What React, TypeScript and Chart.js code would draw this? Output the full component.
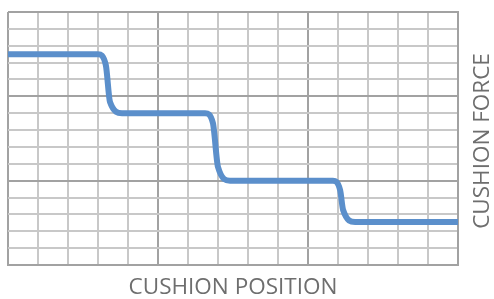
import React, { useEffect, useRef } from "react";
import { Chart, registerables } from "chart.js";

Chart.register(...registerables);

// Data (grid units: 15 x 15 divisions)
const positions = [0, 3.0, 3.26, 3.4, 3.8, 6.57, 6.83, 7.0, 7.4, 10.83, 11.07, 11.17, 11.57, 15];
const forces = [12.5, 12.5, 11.86, 9.66, 9.0, 9.0, 8.42, 5.81, 5.0, 5.0, 4.45, 3.26, 2.55, 2.55];

const xTitle = "CUSHION POSITION";
const yTitle = "CUSHION FORCE";

const axisMin = 0;
const axisMax = 15;
const majorEvery = 5;

const LIGHT = "#c8c8c8";
const DARK = "#a2a2a2";
const TEXT = "#6e6e6e";
const LINE = "#5b8fcb";
const FONT = "'Open Sans', 'Noto Sans', sans-serif";
const TITLE_SIZE = 22.5;

const yTitlePlugin = {
  id: "rotatedYTitle",
  afterDraw(chart: any) {
    const { ctx, chartArea } = chart;
    ctx.save();
    ctx.font = `${TITLE_SIZE}px ${FONT}`;
    ctx.fillStyle = TEXT;
    ctx.textAlign = "center";
    ctx.textBaseline = "middle";
    ctx.translate(chart.width - 11, (chartArea.top + chartArea.bottom) / 2 + 2.5);
    ctx.rotate(-Math.PI / 2);
    ctx.fillText(yTitle, 0, 0);
    ctx.restore();
  },
};

export default function App() {
  const ref = useRef<HTMLCanvasElement | null>(null);

  useEffect(() => {
    if (!ref.current) return;
    const gridColor = (c: any) =>
      Math.round(c.tick.value) % majorEvery === 0 ? DARK : LIGHT;
    const chart = new Chart(ref.current, {
      type: "line",
      data: {
        datasets: [
          {
            data: positions.map((x, i) => ({ x, y: forces[i] })),
            borderColor: LINE,
            borderWidth: 6,
            pointRadius: 0,
            fill: false,
            cubicInterpolationMode: "monotone",
          },
        ],
      },
      options: {
        responsive: false,
        animation: false,
        layout: { padding: { left: 8, top: 12 } },
        plugins: {
          legend: { display: false },
          tooltip: { enabled: false },
        },
        scales: {
          x: {
            type: "linear",
            min: axisMin,
            max: axisMax,
            ticks: { display: false, stepSize: 1 },
            grid: { color: gridColor, lineWidth: 2, drawTicks: false },
            border: { color: DARK, width: 2 },
            title: {
              display: true,
              text: xTitle,
              color: TEXT,
              font: { family: FONT, size: TITLE_SIZE, lineHeight: 1 },
              padding: { top: 11.5, bottom: 0 },
            },
          },
          y: {
            type: "linear",
            position: "right",
            min: axisMin,
            max: axisMax,
            ticks: { display: false, stepSize: 1 },
            grid: { color: gridColor, lineWidth: 2, drawTicks: false },
            border: { color: DARK, width: 2 },
            afterFit: (scale: any) => {
              scale.width = 36;
            },
          },
        },
      },
      plugins: [yTitlePlugin],
    } as any);
    return () => chart.destroy();
  }, []);

  return (
    <div style={{ position: "fixed", left: 0, top: 0, width: 494, height: 299, background: "#fff" }}>
      <canvas ref={ref} width={494} height={299} style={{ display: "block" }} />
    </div>
  );
}
